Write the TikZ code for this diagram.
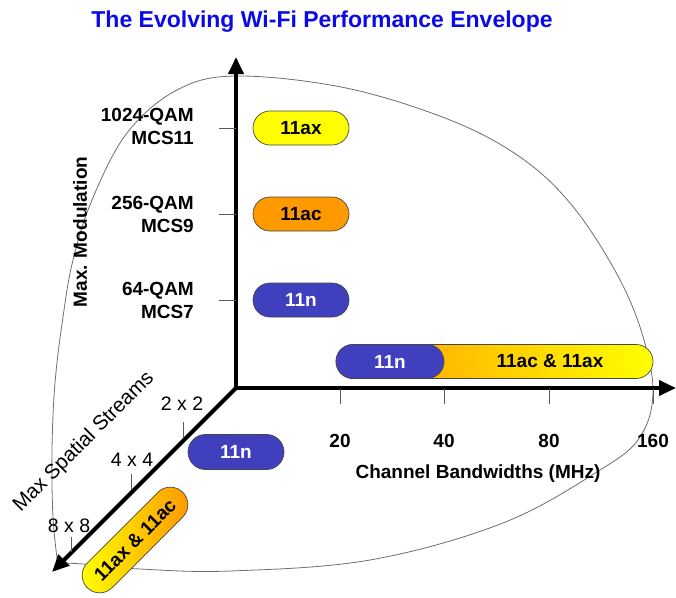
\documentclass[tikz,border=0pt]{standalone}
\usepackage{fontspec}
\setmainfont{Liberation Sans}
\usetikzlibrary{arrows.meta,shapes.misc}
\definecolor{titleblue}{RGB}{10,10,235}
\definecolor{pillyellow}{RGB}{255,255,0}
\definecolor{pillorange}{RGB}{255,153,0}
\definecolor{pillblue}{RGB}{64,64,191}
\definecolor{pillline}{RGB}{70,70,70}
\definecolor{envgray}{RGB}{110,110,110}
\definecolor{tickgray}{RGB}{90,90,90}
\tikzset{
  axisline/.style={line width=4pt,-{Triangle[length=17pt,width=15pt]}},
  tickline/.style={tickgray,line width=0.9pt},
  pill/.style={rounded rectangle,draw=pillline,line width=0.7pt,minimum height=34pt,inner sep=0pt,font=\fontsize{19pt}{22pt}\selectfont\bfseries},
  lab/.style={font=\fontsize{19pt}{23pt}\selectfont\bfseries,inner sep=0pt},
  labr/.style={font=\fontsize{19.5pt}{23pt}\selectfont,inner sep=0pt},
}
\begin{document}
\begin{tikzpicture}[x=1pt,y=-1pt]
\useasboundingbox (0,0) rectangle (676,597);
% title
\node[font=\fontsize{23pt}{26pt}\selectfont\bfseries,text=titleblue,inner sep=0pt] (title) at (322,22) {The Evolving Wi-Fi Performance Envelope};
% envelope
\draw[envgray,line width=0.8pt] plot[smooth,tension=0.6] coordinates {
 (58,566) (53,517) (52,450) (55,383) (63,317) (73,260) (92,200) (127,133) (177,90) (237,76)
 (346,88) (450,120) (520,157) (570,203) (613,267) (640,327) (653,390) (640,437) (600,470)
 (503,523) (370,560) (230,571) (140,569) (83,564) (60,563)};
% axes
\coordinate (o) at (236,388);
\coordinate (ytip) at (236,57);
\coordinate (xtip) at (676,388);
\coordinate (ztip) at (52,572);
\draw[axisline] (o) -- (ytip);
\draw[axisline] (o) -- (xtip);
\draw[axisline] (o) -- (ztip);
% y ticks and labels
\foreach \yy/\nm in {128/ya,214/yb,300/yc}{
  \coordinate (\nm1) at (219,\yy); \coordinate (\nm2) at (236,\yy);
  \draw[tickline] (\nm1) -- (\nm2);}
\node[lab,align=right,anchor=east] (l1024) at (194,126) {1024-QAM\\MCS11};
\node[lab,align=right,anchor=east] (l256) at (194,214) {256-QAM\\MCS9};
\node[lab,align=right,anchor=east] (l64) at (194,300) {64-QAM\\MCS7};
\node[lab,rotate=90] (maxmod) at (80,232) {Max. Modulation};
% x ticks and labels
\foreach \xx/\nm/\tx in {340/xa/20,444/xb/40,549/xc/80,653/xd/160}{
  \coordinate (\nm1) at (\xx,389); \coordinate (\nm2) at (\xx,404);
  \draw[tickline] (\nm1) -- (\nm2);
  \node[lab] (\nm l) at (\xx,441) {\tx};}
\node[lab] (chbw) at (478,474) {Channel Bandwidths (MHz)};
% diagonal ticks and labels
\foreach \xx/\ya/\yb/\nm in {183/422/438/za,131/474/490/zb,71/537/552/zc}{
  \coordinate (\nm1) at (\xx,\ya); \coordinate (\nm2) at (\xx,\yb);
  \draw[tickline] (\nm1) -- (\nm2);}
\node[labr] (s22) at (182,404) {2 x 2};
\node[labr] (s44) at (132,460) {4 x 4};
\node[labr] (s88) at (69,526) {8 x 8};
\node[labr,font=\fontsize{20.5pt}{23pt}\selectfont,rotate=45] (maxss) at (84,442) {Max Spatial Streams};
% pills
\node[pill,fill=pillyellow,minimum width=96pt] (p11ax) at (301,128) {11ax};
\node[pill,fill=pillorange,minimum width=96pt] (p11ac) at (301,214) {11ac};
\node[pill,fill=pillblue,text=white,minimum width=96pt] (p11n) at (301,300) {11n};
\node[pill,left color=pillorange,right color=pillyellow,minimum width=317pt] (pbar) at (494.5,361.5) {};
\node[pill,fill=pillblue,text=white,minimum width=108pt] (pbarn) at (390,361.5) {11n};
\node[lab] (pbartxt) at (550,361.5) {11ac \& 11ax};
\node[pill,fill=pillblue,text=white,minimum width=96pt,minimum height=35pt] (pz11n) at (236,452) {11n};
\node[pill,rotate=45,left color=pillyellow,right color=pillorange,minimum width=135pt,minimum height=35pt] (pz) at (135,540) {11ax \& 11ac};
\end{tikzpicture}
\end{document}
